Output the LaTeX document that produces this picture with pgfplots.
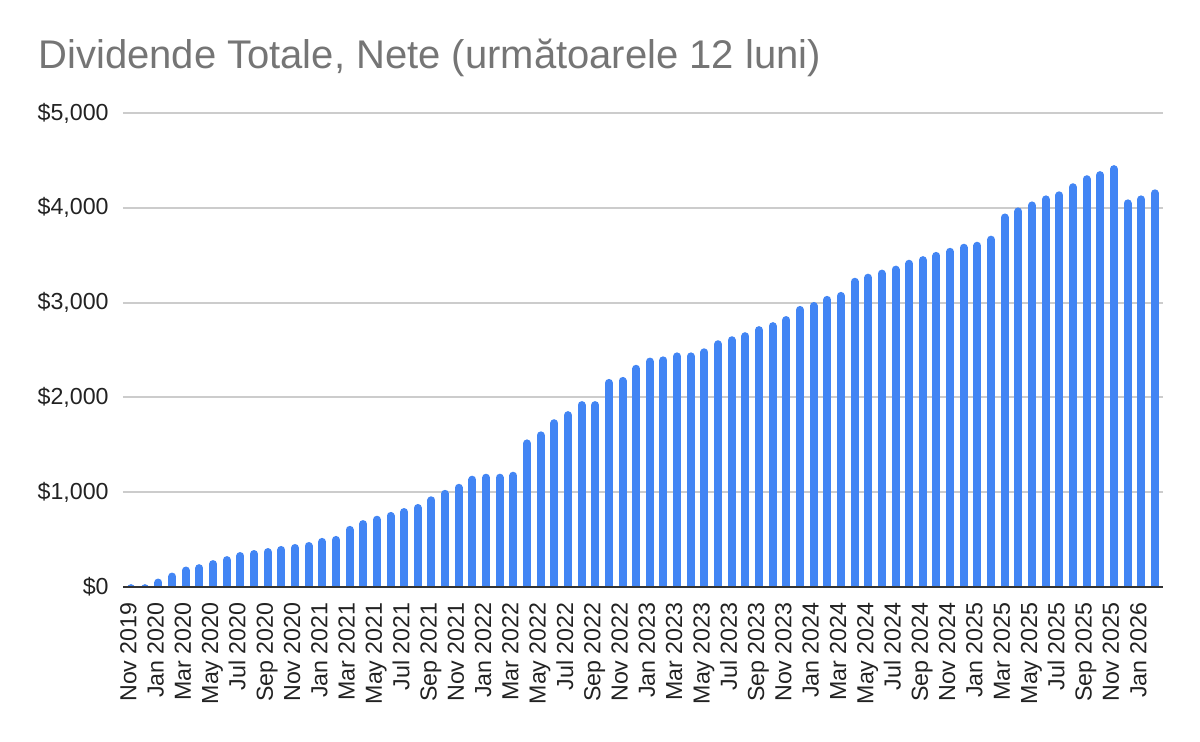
\documentclass[border=0pt]{standalone}
\usepackage{fontspec}
\setmainfont{Liberation Sans}
\usepackage{pgfplots}
\pgfplotsset{compat=1.18}
\definecolor{barblue}{HTML}{4285F4}
\definecolor{gridgray}{HTML}{CCCCCC}
\definecolor{titlegray}{HTML}{757575}
\definecolor{basecol}{HTML}{333333}
\definecolor{labcol}{HTML}{222222}
\begin{document}
\begin{tikzpicture}
\useasboundingbox (0,0) rectangle (600pt,371pt);
\node[anchor=base west, inner sep=0pt, text=titlegray, font=\fontsize{20}{24}\selectfont] at (19pt,336.5pt) {Dividende Totale, Nete (următoarele 12 luni)};
\begin{axis}[
  name=ax,
  at={(61.5pt,77.5pt)}, anchor=south west,
  scale only axis, width=520pt, height=237pt,
  xmin=-0.6, xmax=75.6, ymin=0, ymax=5000,
  axis line style={draw=none},
  tick style={draw=none},
  major tick length=0pt,
  ymajorgrids, grid style={gridgray, line width=1pt},
  ytick={0,1000,2000,3000,4000,5000},
  yticklabels={{\$0},{\$1,000},{\$2,000},{\$3,000},{\$4,000},{\$5,000}},
  yticklabel style={anchor=east, inner sep=0pt, xshift=-7pt, text=labcol, font=\fontsize{11.6}{13}\selectfont},
  xtick={0,2,...,74},
  xticklabels={Nov 2019,Jan 2020,Mar 2020,May 2020,Jul 2020,Sep 2020,Nov 2020,Jan 2021,Mar 2021,May 2021,Jul 2021,Sep 2021,Nov 2021,Jan 2022,Mar 2022,May 2022,Jul 2022,Sep 2022,Nov 2022,Jan 2023,Mar 2023,May 2023,Jul 2023,Sep 2023,Nov 2023,Jan 2024,Mar 2024,May 2024,Jul 2024,Sep 2024,Nov 2024,Jan 2025,Mar 2025,May 2025,Jul 2025,Sep 2025,Nov 2025,Jan 2026},
  xticklabel style={rotate=90, anchor=east, inner sep=0pt, text=labcol, text height=0.72em, text depth=0.21em, font=\fontsize{11.6}{13}\selectfont},
  xticklabel shift=7.5pt,
]
\addplot[ycomb, draw=barblue, line width=4pt, line cap=round, yshift=-2pt, mark=none] table[x=i, y=v] {
i v
0 30
1 30
2 89
3 152
4 216
5 241
6 284
7 326
8 369
9 390
10 411
11 433
12 454
13 475
14 518
15 539
16 645
17 706
18 752
19 792
20 833
21 876
22 957
23 1025
24 1089
25 1174
26 1195
27 1195
28 1216
29 1557
30 1642
31 1770
32 1855
33 1961
34 1961
35 2195
36 2216
37 2344
38 2420
39 2433
40 2475
41 2475
42 2518
43 2603
44 2645
45 2688
46 2752
47 2794
48 2858
49 2965
50 3007
51 3071
52 3113
53 3262
54 3305
55 3348
56 3390
57 3452
58 3490
59 3535
60 3578
61 3621
62 3642
63 3706
64 3940
65 4004
66 4067
67 4131
68 4174
69 4259
70 4344
71 4387
72 4450
73 4089
74 4131
75 4195
};
\end{axis}
\draw[basecol, line width=1.2pt] (ax.south west) -- (ax.south east);
\end{tikzpicture}
\end{document}
